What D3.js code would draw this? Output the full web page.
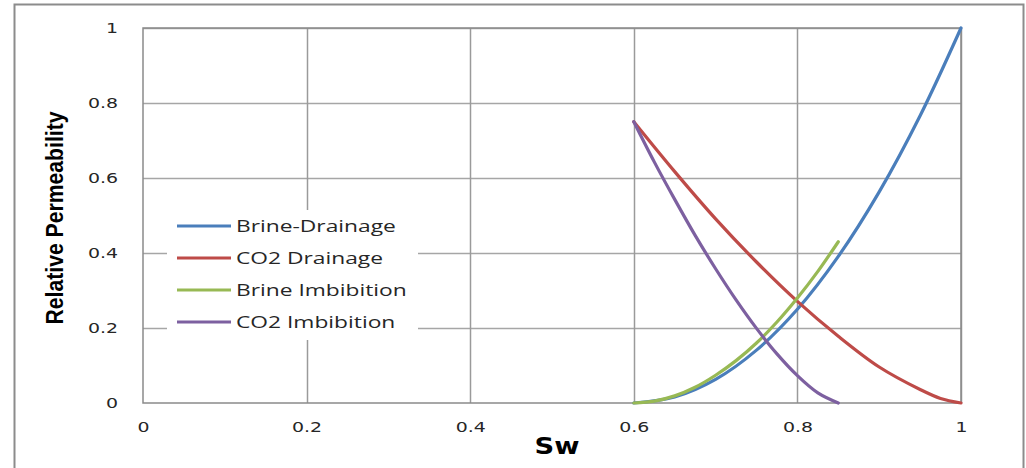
<!DOCTYPE html>
<html>
<head>
<meta charset="utf-8">
<script src="https://cdn.jsdelivr.net/npm/d3@7"></script>
<style>
  body { margin: 0; background: #fff; }
  svg { display: block; }
</style>
</head>
<body>
<script>
// data
const seriesNames = ["Brine-Drainage", "CO2 Drainage", "Brine Imbibition", "CO2 Imbibition"];
const seriesColors = ["#4a7ebb", "#be4b48", "#98b954", "#7d60a0"];

const brineDrainSw = [0.6, 0.65, 0.7, 0.75, 0.8, 0.85, 0.9, 0.95, 1.0];
const brineDrainKr = [0, 0.016, 0.063, 0.141, 0.25, 0.391, 0.563, 0.766, 1.0];

const co2DrainSw = [0.6, 0.65, 0.7, 0.75, 0.8, 0.85, 0.9, 0.95, 0.975, 1.0];
const co2DrainKr = [0.75, 0.617, 0.491, 0.376, 0.271, 0.178, 0.096, 0.036, 0.012, 0];

const brineImbSw = [0.6, 0.625, 0.65, 0.675, 0.7, 0.725, 0.75, 0.775, 0.8, 0.825, 0.85];
const brineImbKr = [0, 0.005, 0.019, 0.042, 0.074, 0.113, 0.16, 0.216, 0.28, 0.351, 0.43];

const co2ImbSw = [0.6, 0.625, 0.65, 0.675, 0.7, 0.725, 0.75, 0.775, 0.8, 0.825, 0.85];
const co2ImbKr = [0.75, 0.643, 0.543, 0.447, 0.358, 0.275, 0.199, 0.131, 0.073, 0.027, 0];

const xTicks = [0, 0.2, 0.4, 0.6, 0.8, 1];
const yTicks = [0, 0.2, 0.4, 0.6, 0.8, 1];

const series = [
  [brineDrainSw, brineDrainKr],
  [co2DrainSw, co2DrainKr],
  [brineImbSw, brineImbKr],
  [co2ImbSw, co2ImbKr]
].map((s, i) => ({
  name: seriesNames[i],
  color: seriesColors[i],
  pts: s[0].map((x, j) => ({ x: x, y: s[1][j] }))
}));

const W = 1026, H = 468;
const svg = d3.select("body").append("svg")
  .attr("width", W)
  .attr("height", H);

// outer frame
svg.append("rect")
  .attr("x", 14.5).attr("y", 4.5)
  .attr("width", 1009).attr("height", 480)
  .attr("fill", "#fff")
  .attr("stroke", "#8c8c8c")
  .attr("stroke-width", 2);

const pLeft = 143, pTop = 28, pRight = 961, pBottom = 403;

const x = d3.scaleLinear().domain([0, 1]).range([pLeft, pRight]);
const y = d3.scaleLinear().domain([0, 1]).range([pBottom, pTop]);

// grid
svg.append("g")
  .selectAll("line")
  .data(yTicks.slice(1))
  .join("line")
  .attr("x1", pLeft).attr("x2", pRight)
  .attr("y1", d => Math.round(y(d)) + 0.5)
  .attr("y2", d => Math.round(y(d)) + 0.5)
  .attr("stroke", "#a6a6a6")
  .attr("stroke-width", 1.5);

svg.append("g")
  .selectAll("line")
  .data(xTicks.slice(1))
  .join("line")
  .attr("y1", pTop).attr("y2", pBottom)
  .attr("x1", d => Math.round(x(d)) + 0.5)
  .attr("x2", d => Math.round(x(d)) + 0.5)
  .attr("stroke", "#9a9a9a")
  .attr("stroke-width", 1.5);

// plot area border
svg.append("rect")
  .attr("x", pLeft).attr("y", pTop)
  .attr("width", pRight - pLeft).attr("height", pBottom - pTop)
  .attr("fill", "none")
  .attr("stroke", "#8a8a8a")
  .attr("stroke-width", 1.5);

// axes (labels only)
const fmt = d => d === 0 || d === 1 ? d3.format("d")(d) : d3.format(".1f")(d);

const xAxis = svg.append("g")
  .attr("transform", `translate(0,${pBottom})`)
  .call(d3.axisBottom(x).tickValues(xTicks).tickSize(0).tickPadding(19).tickFormat(fmt));
xAxis.select(".domain").remove();

const yAxis = svg.append("g")
  .attr("transform", `translate(${pLeft},0)`)
  .call(d3.axisLeft(y).tickValues(yTicks).tickSize(0).tickPadding(25).tickFormat(fmt));
yAxis.select(".domain").remove();

// the picture is stretched sideways, so widen the glyphs
svg.selectAll(".tick text")
  .attr("font-family", "DejaVu Sans, Verdana, sans-serif")
  .attr("font-size", 14)
  .attr("fill", "#262626")
  .each(function () {
    const w = this.getComputedTextLength();
    d3.select(this).attr("textLength", w * 1.35).attr("lengthAdjust", "spacingAndGlyphs");
  });

// axis titles
svg.append("text")
  .attr("x", 557).attr("y", 454)
  .attr("text-anchor", "middle")
  .attr("font-family", "DejaVu Sans, sans-serif")
  .attr("font-weight", "bold")
  .attr("font-size", 23)
  .attr("textLength", 45)
  .attr("lengthAdjust", "spacingAndGlyphs")
  .text("Sw");

svg.append("text")
  .attr("transform", "translate(63,218) rotate(-90)")
  .attr("text-anchor", "middle")
  .attr("font-family", "Liberation Sans Narrow, Arial Narrow, Liberation Sans, sans-serif")
  .attr("font-weight", "bold")
  .attr("font-size", 24)
  .attr("textLength", 213)
  .attr("lengthAdjust", "spacingAndGlyphs")
  .text("Relative Permeability");

// curves
const line = d3.line()
  .x(d => x(d.x))
  .y(d => y(d.y))
  .curve(d3.curveCatmullRom);

svg.append("g")
  .selectAll("path")
  .data(series)
  .join("path")
  .attr("d", d => line(d.pts))
  .attr("fill", "none")
  .attr("stroke", d => d.color)
  .attr("stroke-width", 3.2)
  .attr("stroke-linecap", "round");

// legend
const legend = svg.append("g");
legend.append("rect")
  .attr("x", 167).attr("y", 210)
  .attr("width", 251).attr("height", 130)
  .attr("fill", "#fff");

const rows = legend.selectAll("g.row")
  .data(series)
  .join("g")
  .attr("class", "row")
  .attr("transform", (d, i) => `translate(0,${226 + i * 32})`);

rows.append("line")
  .attr("x1", 177).attr("x2", 231)
  .attr("stroke", d => d.color)
  .attr("stroke-width", 3);

rows.append("text")
  .attr("x", 236).attr("y", 6)
  .attr("font-family", "Open Sans, DejaVu Sans, sans-serif")
  .attr("font-size", 16.5)
  .attr("fill", "#262626")
  .text(d => d.name)
  .each(function () {
    const w = this.getComputedTextLength();
    d3.select(this).attr("textLength", w * 1.38).attr("lengthAdjust", "spacingAndGlyphs");
  });
</script>
</body>
</html>
